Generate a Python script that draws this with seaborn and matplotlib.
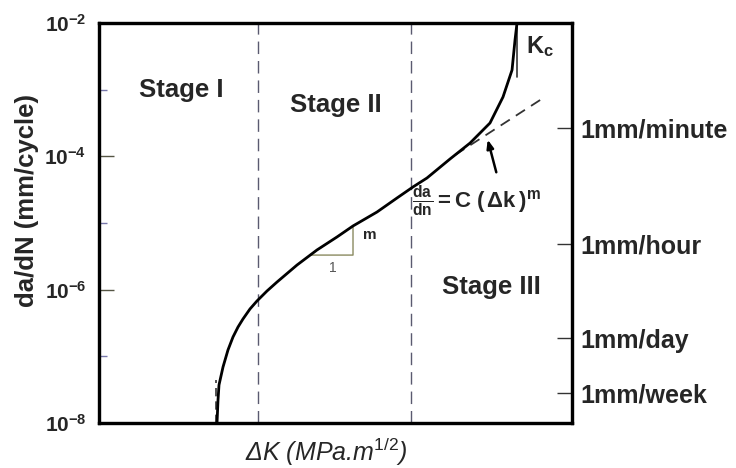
import numpy as np
import pandas as pd
import matplotlib
matplotlib.use("Agg")
import matplotlib.pyplot as plt
from matplotlib.ticker import FixedLocator, NullFormatter
import seaborn as sns

# ---------------- data ----------------
delta_k = [24.95, 25.16, 25.37, 26.22, 27.27, 28.33, 29.39, 30.44, 31.92, 33.40,
           35.52, 37.63, 41.86, 46.09, 50.32, 53.70, 58.77, 63.00, 66.38, 69.34,
           74.21, 78.44, 82.66, 85.41, 87.32, 87.95, 88.37]
dadn = [1e-8, 2.21e-8, 3.72e-8, 6.92e-8, 1.245e-7, 1.95e-7, 2.75e-7, 3.63e-7, 5.13e-7, 6.76e-7,
        9.55e-7, 1.30e-6, 2.34e-6, 3.94e-6, 6.17e-6, 9.02e-6, 1.46e-5, 2.37e-5, 3.47e-5, 4.73e-5,
        9.12e-5, 1.58e-4, 3.16e-4, 7.76e-4, 1.97e-3, 5.56e-3, 1e-2]

paris_k = [75.3, 94.3]
paris_dadn = [1.05e-4, 7.8e-4]

threshold_k = 24.8
threshold_dadn = [1e-8, 4.4e-8]
stage_bounds = [33.6, 66.0]
kc = 88.4
kc_dadn = [1.55e-3, 1e-2]

tri_k = [44.6, 53.70, 53.70, 44.6]
tri_dadn = [3.3e-6, 3.3e-6, 9.0e-6, 3.3e-6]

left_major = [1e-8, 1e-6, 1e-4, 1e-2]
left_major_labels = [r"$\mathbf{10^{-8}}$", r"$\mathbf{10^{-6}}$",
                     r"$\mathbf{10^{-4}}$", r"$\mathbf{10^{-2}}$"]
left_minor = [1e-7, 1e-5, 1e-3]

rate_labels = ["1mm/minute", "1mm/hour", "1mm/day", "1mm/week"]
rate_vals = [2.66e-4, 4.84e-6, 1.88e-7, 2.82e-8]

stage_names = ["Stage I", "Stage II", "Stage III"]

# ---------------- style ----------------
sns.set_style("white")
plt.rcParams["font.family"] = ["Liberation Sans", "DejaVu Sans"]
plt.rcParams["mathtext.fontset"] = "custom"
plt.rcParams["mathtext.rm"] = "Liberation Sans"
plt.rcParams["mathtext.it"] = "Liberation Sans:italic"
plt.rcParams["mathtext.bf"] = "Liberation Sans:bold"

fig = plt.figure(figsize=(7.36, 4.68), dpi=100)
fig.patch.set_facecolor("white")
ax = fig.add_axes([0.1345, 0.0962, 0.6427, 0.8547])
ax.set_facecolor("white")

ax.set_yscale("log")
ax.set_xlim(0, 100)
ax.set_ylim(1e-8, 1e-2)

# stage boundaries
for b in stage_bounds:
    ax.axvline(b, color="#5a5a70", lw=1.0, dashes=(9, 5), zorder=1)

# threshold line
sns.lineplot(x=[threshold_k, threshold_k], y=threshold_dadn, ax=ax, color="#333333",
             lw=1.2, estimator=None, sort=False, zorder=2)
ax.lines[-1].set_dashes((5, 3))

# Paris law extension
sns.lineplot(x=paris_k, y=paris_dadn, ax=ax, color="#333333", lw=1.3,
             estimator=None, sort=False, zorder=2)
ax.lines[-1].set_dashes((6, 4))

# Kc asymptote
sns.lineplot(x=[kc, kc], y=kc_dadn, ax=ax, color="#333333", lw=1.2,
             estimator=None, sort=False, zorder=2)

# slope triangle
sns.lineplot(x=tri_k, y=tri_dadn, ax=ax, color="#8a8a60", lw=1.0,
             estimator=None, sort=False, zorder=2)

# main curve
df = pd.DataFrame({"dK": delta_k, "dadn": dadn})
sns.lineplot(data=df, x="dK", y="dadn", ax=ax, color="black", lw=2.0,
             estimator=None, sort=False, zorder=3)

ax.set_xlabel("")
ax.set_ylabel("")
ax.set_xticks([])

# left ticks
ax.yaxis.set_major_locator(FixedLocator(left_major))
ax.set_yticklabels(left_major_labels)
ax.yaxis.set_minor_locator(FixedLocator(left_minor))
ax.yaxis.set_minor_formatter(NullFormatter())
ax.tick_params(axis="y", which="major", direction="in", length=11, width=1.0,
               color="#555544", pad=9, labelsize=15, left=True, right=False)
ax.tick_params(axis="y", which="minor", direction="in", length=6, width=1.0,
               color="#7777aa", left=True, right=False)

# right axis
ax2 = ax.twinx()
ax2.set_yscale("log")
ax2.set_ylim(1e-8, 1e-2)
ax2.yaxis.set_major_locator(FixedLocator(rate_vals))
ax2.set_yticklabels(rate_labels, fontweight="bold")
ax2.yaxis.set_minor_locator(FixedLocator([]))
ax2.tick_params(axis="y", which="major", direction="in", length=11, width=1.0,
                color="#333333", pad=6, labelsize=18)

for a in (ax, ax2):
    for s in a.spines.values():
        s.set_visible(True)
        s.set_linewidth(2.3)
        s.set_color("black")

# stage labels
ax.text(0.173, 0.832, stage_names[0], transform=ax.transAxes, ha="center", va="center",
        fontsize=18.5, fontweight="bold")
ax.text(0.50, 0.795, stage_names[1], transform=ax.transAxes, ha="center", va="center",
        fontsize=18.5, fontweight="bold")
ax.text(0.83, 0.34, stage_names[2], transform=ax.transAxes, ha="center", va="center",
        fontsize=18.5, fontweight="bold")

# Kc label
ax.text(0.932, 0.94, r"$\mathbf{K_c}$", transform=ax.transAxes, ha="center", va="center",
        fontsize=17)

# slope labels
ax.text(0.573, 0.47, "m", transform=ax.transAxes, ha="center", va="center",
        fontsize=11, fontweight="bold")
ax.text(0.495, 0.3875, "1", transform=ax.transAxes, ha="center", va="center",
        fontsize=10, color="#555555")

# Paris law formula
ax.text(0.662, 0.555, r"$\mathbf{\frac{da}{dn}=C\ (\,\Delta k\,)^{m}}$", transform=ax.transAxes,
        ha="left", va="center", fontsize=16)
ax.annotate("", xy=(82.03, 1.95e-4), xytext=(84.14, 5.25e-5),
            arrowprops=dict(arrowstyle="-|>,head_length=0.5,head_width=0.2",
                            color="black", lw=1.8))

# axis labels
fig.text(0.037, 0.571, "da/dN (mm/cycle)", rotation=90, ha="center", va="center",
         fontsize=18.5, fontweight="bold")
fig.text(0.443, 0.034, r"ΔK (MPa.m$^{1/2}$)", ha="center", va="center",
         fontsize=18, style="italic")

fig.savefig("out.png", dpi=100, facecolor="white")
